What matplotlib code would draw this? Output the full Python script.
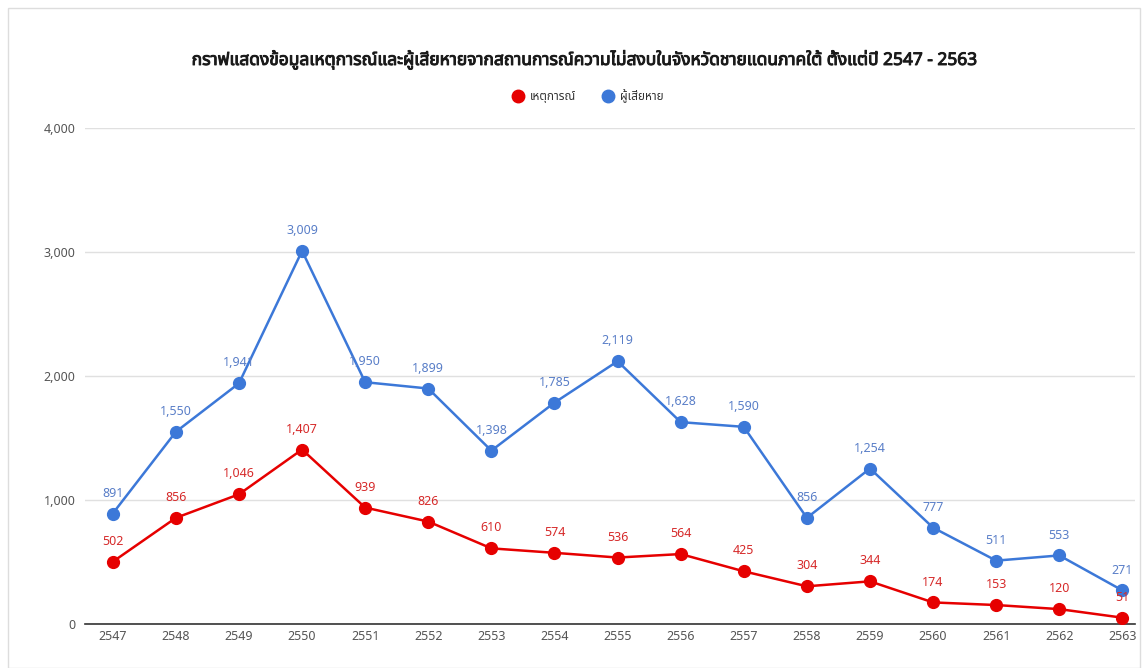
import matplotlib
matplotlib.use("Agg")
import matplotlib.pyplot as plt
import matplotlib.patheffects as pe
from matplotlib import font_manager
from matplotlib.ft2font import FT2Font
from matplotlib.patches import Rectangle
from matplotlib.lines import Line2D

# ---- data ----
years = ["2547", "2548", "2549", "2550", "2551", "2552", "2553", "2554", "2555",
         "2556", "2557", "2558", "2559", "2560", "2561", "2562", "2563"]
incidents = [502, 856, 1046, 1407, 939, 826, 610, 574, 536, 564, 425, 304, 344, 174, 153, 120, 51]
victims = [891, 1550, 1941, 3009, 1950, 1899, 1398, 1785, 2119, 1628, 1590, 856, 1254, 777, 511, 553, 271]
series_names = ["เหตุการณ์", "ผู้เสียหาย"]
title = "กราฟแสดงข้อมูลเหตุการณ์และผู้เสียหายจากสถานการณ์ความไม่สงบในจังหวัดชายแดนภาคใต้ ตั้งแต่ปี 2547 - 2563"
yticks = [0, 1000, 2000, 3000, 4000]

# ---- find a font with Thai glyphs ----
thai_family = None
preferred = ["Noto Sans Thai", "Noto Sans Thai UI", "Loma", "Garuda", "Tlwg Typo", "Sarabun"]
cands = []
for f in font_manager.fontManager.ttflist:
    try:
        ft = FT2Font(f.fname)
        cm = ft.get_charmap()
        if 0x0E01 in cm and 0x0E2B in cm:
            cands.append(f.name)
    except Exception:
        pass
for p in preferred:
    if p in cands:
        thai_family = p
        break
if thai_family is None and cands:
    thai_family = cands[0]
families = ([thai_family] if thai_family else []) + ["Roboto", "DejaVu Sans"]
plt.rcParams["font.family"] = families

W, H = 1148, 668
fig = plt.figure(figsize=(W / 100, H / 100), dpi=100)
fig.patch.set_facecolor("white")

# card border
fig.add_artist(Rectangle((8 / W, 0), (W - 16) / W, (H - 8) / H, transform=fig.transFigure,
                         fill=False, edgecolor="#dddddd", linewidth=1))

ax = fig.add_axes([85 / W, 44 / H, (1135 - 85) / W, (624 - 128) / H])
x = list(range(len(years)))
red = "#e60000"
blue = "#3c78d8"
red_lbl = "#d62a2a"
blue_lbl = "#5a7fc8"

ax.plot(x, victims, color=blue, lw=1.8, marker="o", ms=8.5, zorder=3)
ax.plot(x, incidents, color=red, lw=1.8, marker="o", ms=8.5, zorder=4)

for xi, v in zip(x, victims):
    ax.annotate(f"{v:,}", (xi, v), xytext=(0, 10), textcoords="offset points",
                ha="center", va="bottom", fontsize=9, color=blue_lbl, zorder=5)
for xi, v in zip(x, incidents):
    ax.annotate(f"{v:,}", (xi, v), xytext=(0, 10), textcoords="offset points",
                ha="center", va="bottom", fontsize=9, color=red_lbl, zorder=5)

ax.set_xlim(-0.44, 16.2)
ax.set_ylim(0, 4000)
ax.set_yticks(yticks)
ax.set_yticklabels([f"{t:,}" for t in yticks])
ax.set_xticks(x)
ax.set_xticklabels(years)
ax.tick_params(axis="both", length=0, labelsize=9, labelcolor="#555555")
ax.tick_params(axis="y", pad=7)
ax.tick_params(axis="x", pad=4)
ax.grid(axis="y", color="#e0e0e0", lw=1)
ax.set_axisbelow(True)
for s in ["top", "right", "left"]:
    ax.spines[s].set_visible(False)
ax.spines["bottom"].set_color("#333333")
ax.spines["bottom"].set_linewidth(1.2)
ax.spines["bottom"].set_zorder(2)

fig.text(585 / W, 1 - 60 / H, title, ha="center", va="center", fontsize=12.5,
         fontweight="bold", color="#1a1a1a",
         path_effects=[pe.withStroke(linewidth=0.7, foreground="#1a1a1a")])

handles = [Line2D([], [], ls="none", marker="o", ms=9, color=red),
           Line2D([], [], ls="none", marker="o", ms=9, color=blue)]
fig.legend(handles, series_names, loc="center", bbox_to_anchor=(588 / W, 1 - 96 / H),
           ncol=2, frameon=False, fontsize=8.5, handletextpad=0.5, columnspacing=2.2,
           handlelength=1.0, labelcolor="#333333")

fig.savefig("out.png", dpi=100)
